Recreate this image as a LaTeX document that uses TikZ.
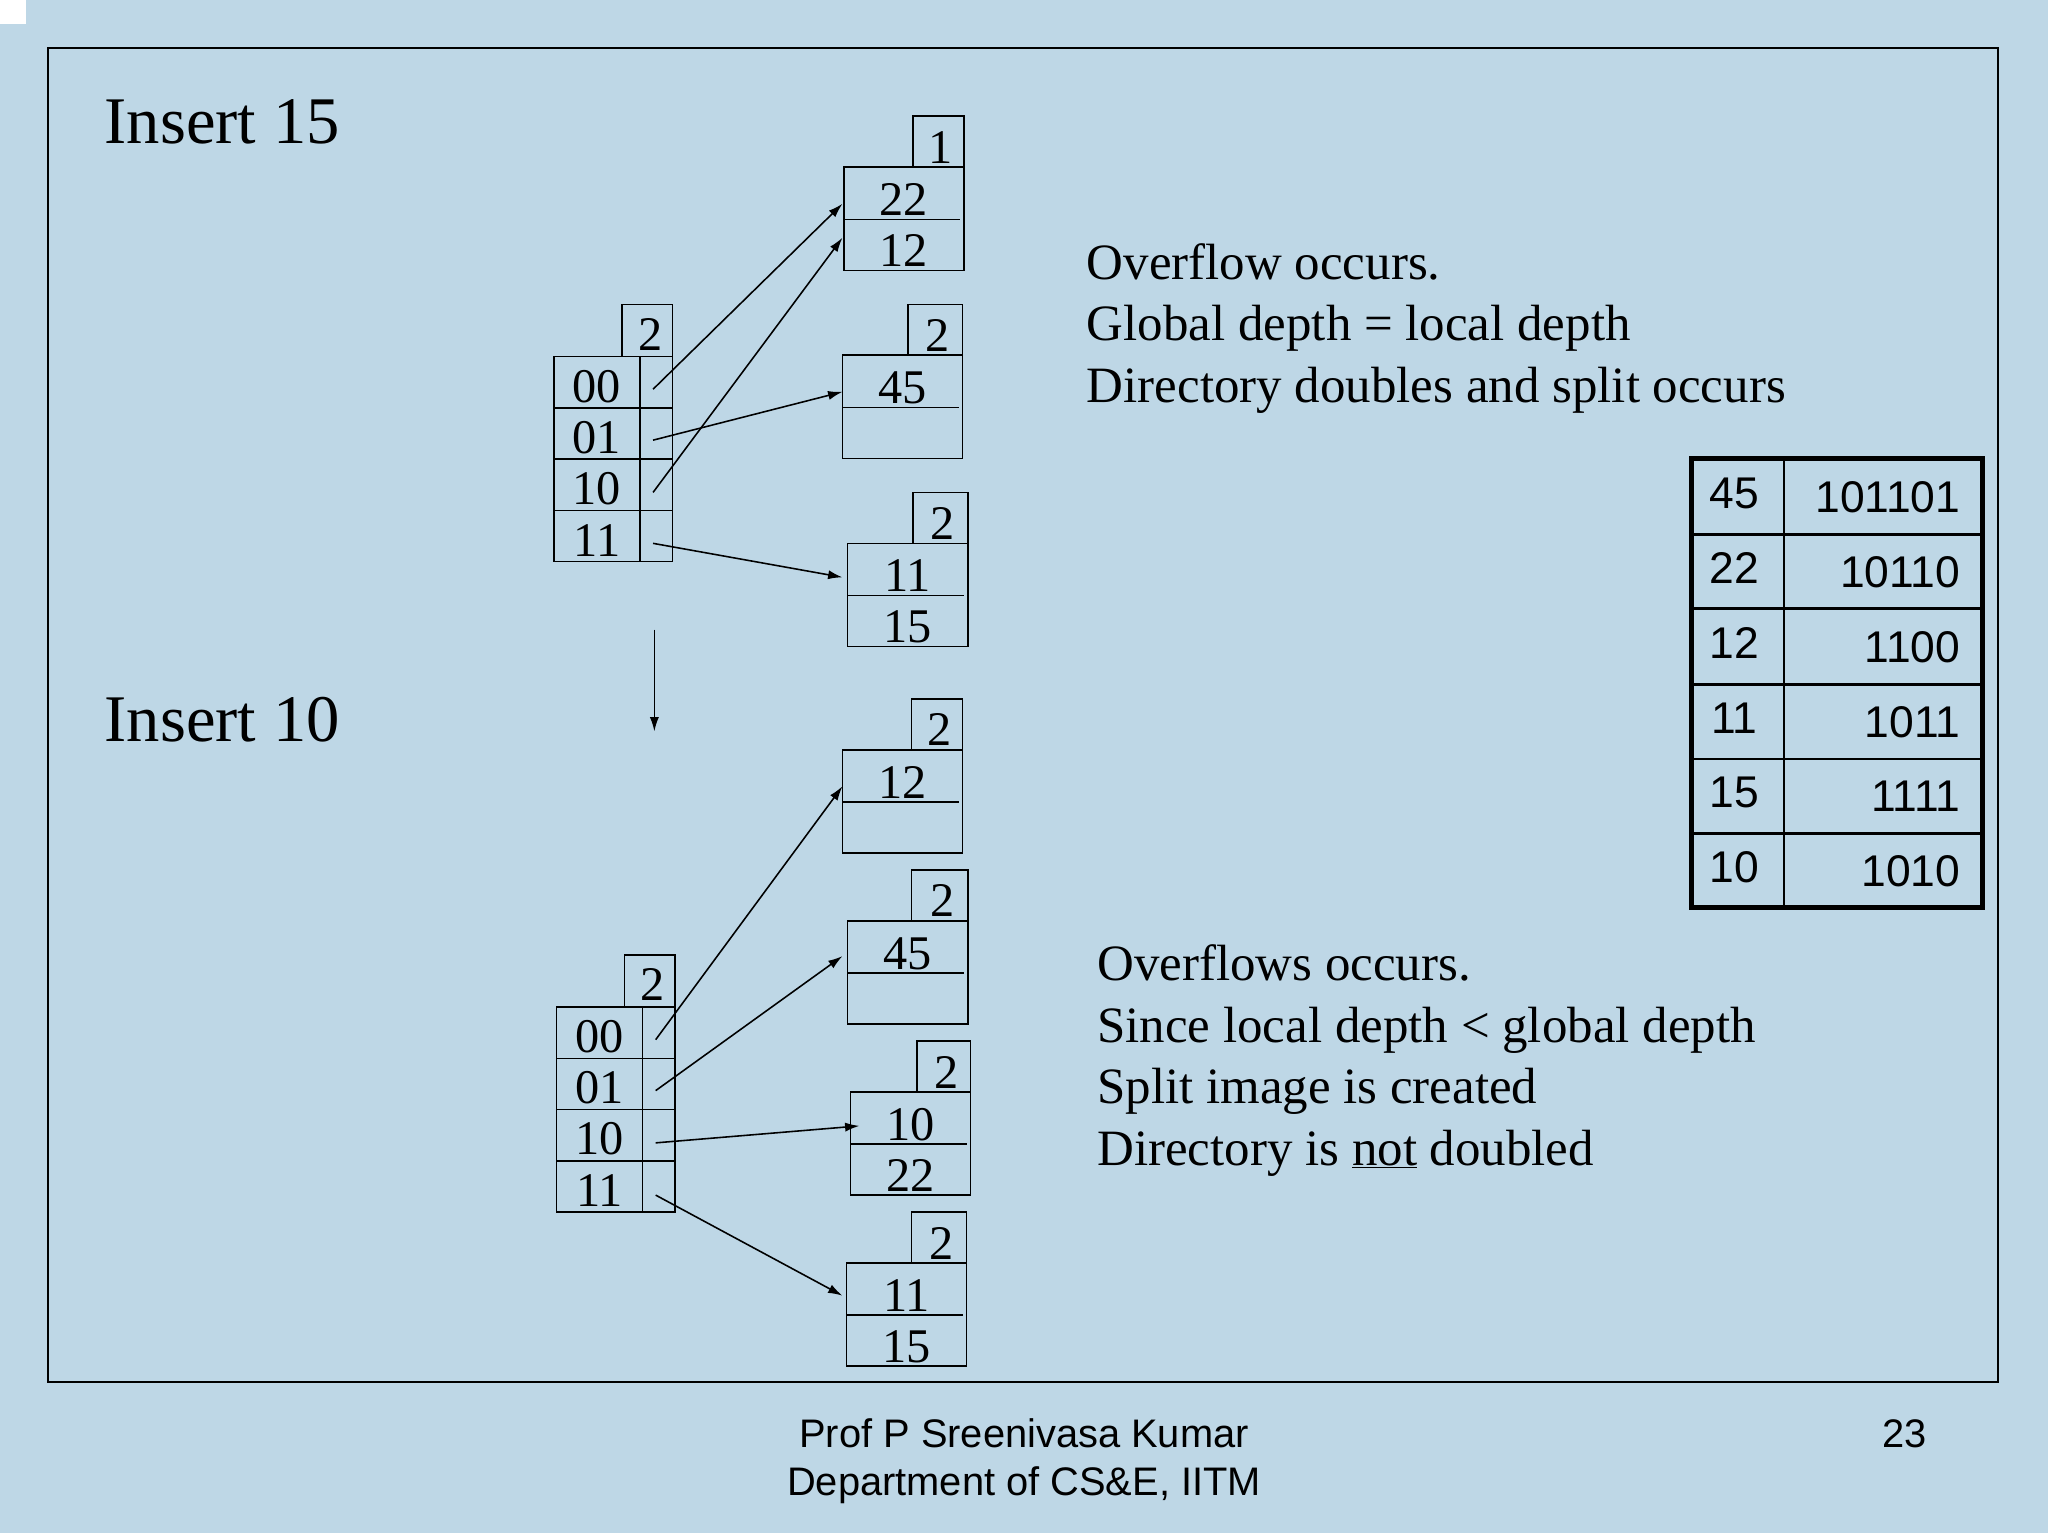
\documentclass[tikz,border=0pt]{standalone}
\usepackage{fontspec}
\setmainfont{Liberation Serif}
\newfontfamily\sansf{Liberation Sans}
\usetikzlibrary{arrows.meta}
\definecolor{bg}{RGB}{190,215,230}
\begin{document}
\begin{tikzpicture}[x=1pt,y=-1pt,
  cell/.style={draw,line width=1.2pt},
  lbl/.style={font=\fontsize{37}{40}\selectfont,anchor=base,inner sep=0},
  body/.style={font=\fontsize{39}{44}\selectfont,anchor=base west,inner sep=0},
  big/.style={font=\fontsize{51}{56}\selectfont,anchor=base west,inner sep=0},
  tab/.style={font=\sansf\fontsize{34}{38}\selectfont,inner sep=0},
  foot/.style={font=\sansf\fontsize{30.5}{34}\selectfont,anchor=base,inner sep=0},
  arr/.style={-{Latex[length=11pt,width=7pt]},line width=1.2pt}]
\useasboundingbox (0,0) rectangle (1568,1174);
\fill[bg] (0,0) rectangle (1568,1174);
\fill[white] (0,0) rectangle (20,18);
\draw[line width=1.5pt] (37,37) rectangle (1530,1058);
% directory macro: x1 xs x2 y0 (top of depth box)
\newcommand\dirbox[4]{%
  \draw[cell] (#3-39,#4) rectangle (#3,#4+40);
  \node[lbl] at (#3-17,#4+35) {2};
  \draw[cell] (#1,#4+40) rectangle (#3,#4+197);
  \draw[cell] (#2,#4+40) -- (#2,#4+197);
  \foreach \i in {1,2,3} \draw[cell] (#1,#4+40+39.3*\i) -- (#3,#4+40+39.3*\i);
  \node[lbl] at ({(#1+#2)/2},#4+75) {00};
  \node[lbl] at ({(#1+#2)/2},#4+114) {01};
  \node[lbl] at ({(#1+#2)/2},#4+153) {10};
  \node[lbl] at ({(#1+#2)/2},#4+193) {11};}
% bucket macro: x1 x2 y(top of bucket) depthbox-left depth text1 text2
\newcommand\bkt[7]{%
  \draw[cell] (#4,#3-39) rectangle (#2,#3);
  \node[lbl] at ({(#4+#2)/2+2},#3-3) {#5};
  \draw[cell] (#1,#3) rectangle (#2,#3+79);
  \draw[cell] (#1,#3+40) -- (#2-3,#3+40);
  \node[lbl] at ({(#1+#2)/2},#3+37) {#6};
  \node[lbl] at ({(#1+#2)/2},#3+76) {#7};}
\dirbox{424}{490}{515}{233}
\bkt{646}{738}{128}{699}{1}{22}{12}
\bkt{645}{737}{272}{695}{2}{45}{}
\bkt{649}{741}{416}{699}{2}{11}{15}
\dirbox{426}{492}{517}{731}
\bkt{645}{737}{574}{698}{2}{12}{}
\bkt{649}{741}{705}{698}{2}{45}{}
\bkt{651}{743}{836}{702}{2}{10}{22}
\bkt{648}{740}{967}{698}{2}{11}{15}
% arrow endpoints
\coordinate (a1) at (500,298); \coordinate (b1) at (645,156);
\coordinate (a2) at (500,377); \coordinate (b2) at (645,182);
\coordinate (a3) at (500,337); \coordinate (b3) at (645,300);
\coordinate (a4) at (500,416); \coordinate (b4) at (645,442);
\coordinate (d1) at (501,482); \coordinate (d2) at (501,560);
\coordinate (c1) at (502,796); \coordinate (e1) at (645,602);
\coordinate (c2) at (502,835); \coordinate (e2) at (645,732);
\coordinate (c3) at (502,875); \coordinate (e3) at (658,862);
\coordinate (c4) at (502,915); \coordinate (e4) at (645,992);
\foreach \s/\t in {a1/b1,a2/b2,a3/b3,a4/b4,d1/d2,c1/e1,c2/e2,c3/e3,c4/e4}
  \draw[arr] (\s) -- (\t);
\node[big] (t1) at (80,110) {Insert 15};
\node[big] (t2) at (80,568) {Insert 10};
\node[body] (o1) at (832,214) {Overflow occurs.};
\node[body] (o2) at (832,261) {Global depth = local depth};
\node[body] (o3) at (832,308) {Directory doubles and split occurs};
\node[body] (p1) at (840,751) {Overflows occurs.};
\node[body] (p2) at (840,798) {Since local depth < global depth};
\node[body] (p3) at (840,845) {Split image is created};
\node[body] (p4) at (840,892) {Directory is \underline{not} doubled};
% table
\foreach \y in {409,466,524,581,638} \draw[line width=2pt] (1295,\y) -- (1518,\y);
\draw[line width=2pt] (1366,351) -- (1366,695);
\draw[line width=3.5pt] (1295,351) rectangle (1518,695);
\foreach \k/\b [count=\i] in {45/101101,22/10110,12/1100,11/1011,15/1111,10/1010}{
  \pgfmathsetmacro\yy{351+57.3*\i-28.6}
  \node[tab] (k\i) at (1328,\yy-2) {\k};
  \node[tab,anchor=east] (v\i) at (1501,\yy+1) {\b};}
\node[foot] (f1) at (784,1108) {Prof P Sreenivasa Kumar};
\node[foot] (f2) at (784,1145) {Department of CS\&E, IITM};
\node[foot] (f3) at (1458,1108) {23};
\end{tikzpicture}
\end{document}
